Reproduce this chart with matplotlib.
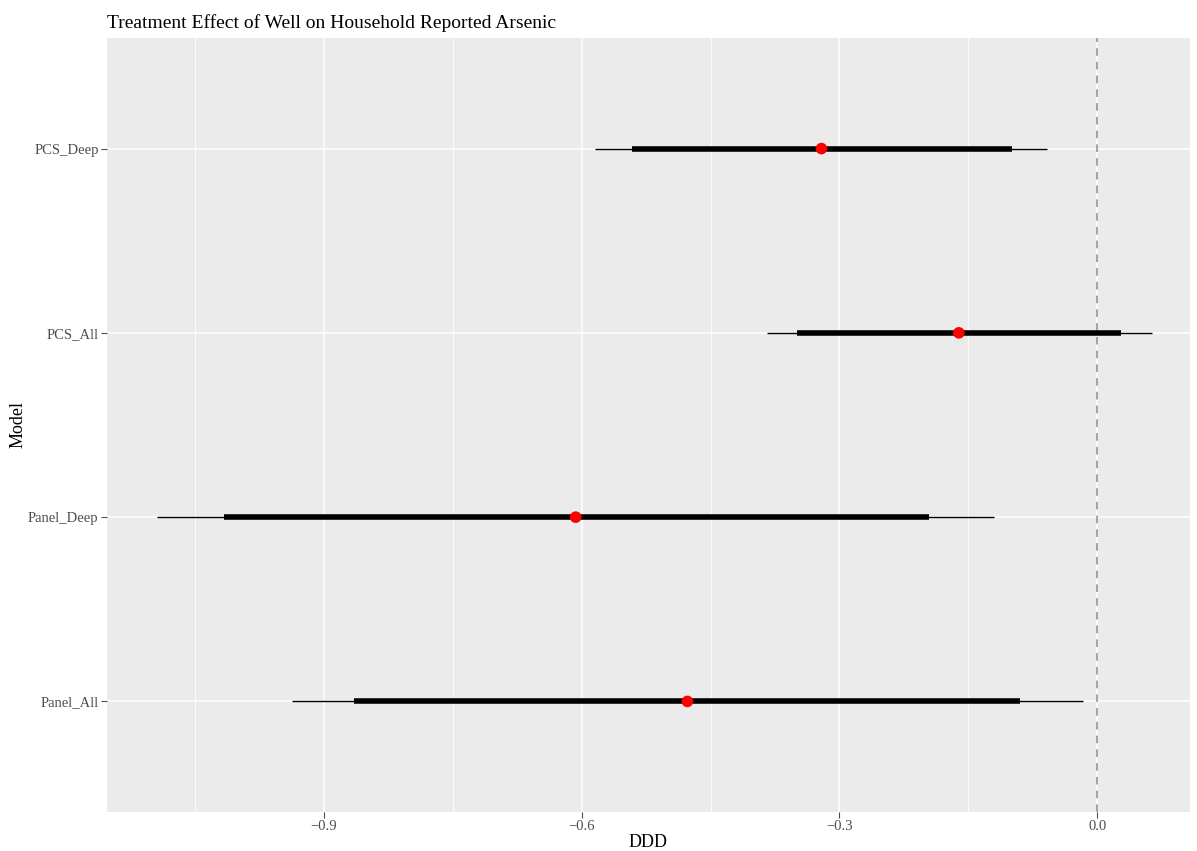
import matplotlib.pyplot as plt
from matplotlib.ticker import FixedLocator

plt.rcParams['font.family'] = ['Liberation Serif', 'DejaVu Serif']

# --------------- [Data] --------------- #
models = ["Panel_All", "Panel_Deep", "PCS_All", "PCS_Deep"]
estimate = [-0.477, -0.607, -0.161, -0.321]
ci90_low = [-0.865, -1.016, -0.349, -0.542]
ci90_high = [-0.090, -0.196, 0.028, -0.099]
ci95_low = [-0.937, -1.094, -0.384, -0.584]
ci95_high = [-0.016, -0.120, 0.064, -0.058]

# --------------- [Plot] --------------- #
fig = plt.figure(figsize=(11.97, 8.51), dpi=100)
ax = fig.add_axes([107 / 1197, 1 - 812 / 851, (1190 - 107) / 1197, (812 - 38) / 851])
ax.set_facecolor("#EBEBEB")
for s in ax.spines.values():
    s.set_visible(False)

ypos = list(range(len(models)))
ax.axvline(0, color="#8c8c8c", linestyle=(0, (5, 4)), lw=1.1, zorder=2)
ax.hlines(ypos, ci95_low, ci95_high, color="black", lw=1.0, zorder=3)
ax.hlines(ypos, ci90_low, ci90_high, color="black", lw=4.0, zorder=4)
ax.scatter(estimate, ypos, color="red", s=70, zorder=5, edgecolors="none")

ax.set_xlim(-1.1525, 0.108)
ax.set_ylim(-0.6, len(models) - 0.4)
ax.xaxis.set_major_locator(FixedLocator([-0.9, -0.6, -0.3, 0.0]))
ax.xaxis.set_minor_locator(FixedLocator([-1.05, -0.75, -0.45, -0.15]))
ax.set_xticklabels(["\u22120.9", "\u22120.6", "\u22120.3", "0.0"])
ax.set_yticks(ypos)
ax.set_yticklabels(models)

ax.grid(True, which="major", color="white", lw=1.1, zorder=0)
ax.grid(True, which="minor", axis="x", color="white", lw=0.6, zorder=0)
ax.set_axisbelow(True)
ax.tick_params(which="major", length=4, pad=2, color="#4d4d4d", labelcolor="#4d4d4d", labelsize=10.5)
ax.tick_params(which="minor", length=0)

ax.set_xlabel("DDD", fontsize=13, va="center")
ax.xaxis.set_label_coords(0.5, -0.039)
ax.set_ylabel("Model", fontsize=13, va="center")
ax.yaxis.set_label_coords(-0.082, 0.5)
ax.set_title("Treatment Effect of Well on Household Reported Arsenic", fontsize=14, loc="left", pad=7)

fig.savefig("out.png", dpi=100)
